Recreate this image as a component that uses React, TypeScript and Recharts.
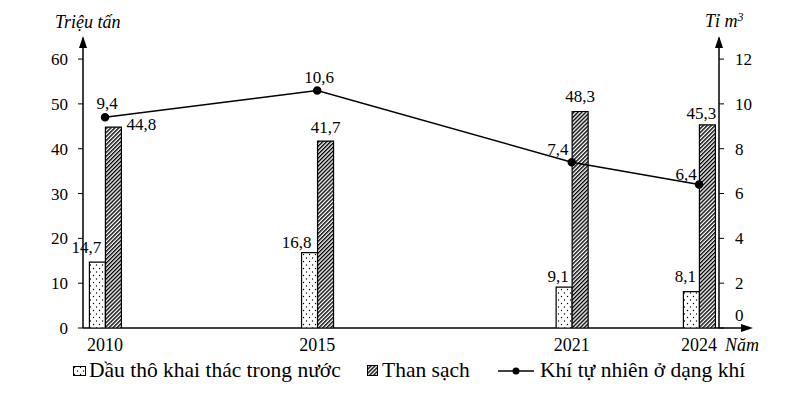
import React from "react";
import { ComposedChart, Bar, Line, XAxis, YAxis, LabelList, Customized } from "recharts";

const years = [2010, 2015, 2021, 2024];
const dauTho = [14.7, 16.8, 9.1, 8.1];
const thanSach = [44.8, 41.7, 48.3, 45.3];
const khiTuNhien = [9.4, 10.6, 7.4, 6.4];
const leftTicks = [0, 10, 20, 30, 40, 50, 60];
const rightTicks = [0, 2, 4, 6, 8, 10, 12];
const seriesNames = ["Dầu thô khai thác trong nước", "Than sạch", "Khí tự nhiên ở dạng khí"];

const data = years.map((year, i) => ({
  year,
  dau: dauTho[i],
  than: thanSach[i],
  khi: khiTuNhien[i],
}));

// label nudges [dx, dy] per point
const dauOffsets = [[-11, -15], [-13, -10], [-6, -11], [-6, -15]];
const thanOffsets = [[28, -3], [0, -14], [0, -15], [-6, -11]];
const khiOffsets = [[2, -14], [2, -13], [-14, -13], [-13, -10]];

const FONT = "'Liberation Serif', 'Times New Roman', serif";
const W = 791;
const H = 380;
const M = { top: 30, right: 30, bottom: 30, left: 15 };
const plotLeft = 75;
const plotRight = 711;
const plotBottom = 320;

const fmt = (v: number) => String(v).replace(".", ",");

const makeLabel = (offsets: number[][]) => (props: any) => {
  const { x, y, width, value, index } = props;
  const [dx, dy] = offsets[index] || [0, -10];
  const cx = Number(x) + (width ? Number(width) / 2 : 0);
  return (
    <text x={cx + dx} y={Number(y) + dy} textAnchor="middle" dominantBaseline="central" fontFamily={FONT} fontSize={17} fill="#000">
      {fmt(value)}
    </text>
  );
};

const RightTick = (props: any) => {
  const { x, y, payload } = props;
  const shift = payload.value === 0 ? -13 : 0;
  return (
    <text x={x} y={y + shift} dy="0.35em" textAnchor="start" fontFamily={FONT} fontSize={17} fill="#000">
      {payload.value}
    </text>
  );
};

const AxisDecor = () => (
  <g>
    <line x1={plotLeft} y1={plotBottom} x2={737} y2={plotBottom} stroke="#000" strokeWidth={1.5} />
    <polygon points={`${plotLeft},28 ${plotLeft - 4},40 ${plotLeft + 4},40`} fill="#000" />
    <polygon points={`${plotRight},28 ${plotRight - 4},40 ${plotRight + 4},40`} fill="#000" />
    <polygon points={`745,${plotBottom} 733,${plotBottom - 4} 733,${plotBottom + 4}`} fill="#000" />
    <text x={47} y={20} fontFamily={FONT} fontStyle="italic" fontSize={18} fill="#000">Triệu tấn</text>
    <text x={697} y={19} fontFamily={FONT} fontStyle="italic" fontSize={18} fill="#000">
      Tỉ m<tspan dy={-6} fontSize={12}>3</tspan>
    </text>
    <text x={717} y={337} dy="0.35em" fontFamily={FONT} fontStyle="italic" fontSize={18} fill="#000">Năm</text>
  </g>
);

const Patterns = () => (
  <defs>
    <pattern id="dots" width="6" height="7" patternUnits="userSpaceOnUse">
      <rect width="6" height="7" fill="#fff" />
      <circle cx="1.5" cy="1.5" r="0.7" fill="#000" />
      <circle cx="4.5" cy="5" r="0.7" fill="#000" />
    </pattern>
    <pattern id="hatch" width="2.8" height="2.8" patternUnits="userSpaceOnUse" patternTransform="rotate(45)">
      <rect width="2.8" height="2.8" fill="#fff" />
      <line x1="0.7" y1="0" x2="0.7" y2="2.8" stroke="#000" strokeWidth="1.4" />
    </pattern>
  </defs>
);

const Legend = () => (
  <div style={{ position: "absolute", left: 0, top: 350, width: W, height: 26, fontFamily: FONT, fontSize: 21.5, color: "#000" }}>
    <div style={{ position: "absolute", left: 65, top: 0, display: "flex", alignItems: "center", whiteSpace: "nowrap" }}>
      <svg width={13} height={10} style={{ marginRight: 3 }}>
        <rect x={0.5} y={0.5} width={12} height={9} fill="url(#dots)" stroke="#000" />
      </svg>
      {seriesNames[0]}
    </div>
    <div style={{ position: "absolute", left: 359, top: 0, display: "flex", alignItems: "center", whiteSpace: "nowrap" }}>
      <svg width={11} height={11} style={{ marginRight: 4 }}>
        <rect x={0.5} y={0.5} width={10} height={10} fill="url(#hatch)" stroke="#000" />
      </svg>
      {seriesNames[1]}
    </div>
    <div style={{ position: "absolute", left: 490, top: 0, display: "flex", alignItems: "center", whiteSpace: "nowrap" }}>
      <svg width={36} height={10} style={{ marginRight: 6 }}>
        <line x1={0} y1={5} x2={36} y2={5} stroke="#000" strokeWidth={1.5} />
        <circle cx={18} cy={5} r={3.5} fill="#000" />
      </svg>
      {seriesNames[2]}
    </div>
  </div>
);

export default function App() {
  return (
    <div style={{ position: "relative", width: W, height: H, background: "#fff" }}>
      <ComposedChart width={W} height={H} data={data} margin={M} barGap={0}>
        <Patterns />
        <XAxis
          dataKey="year"
          type="number"
          domain={[2009.48, 2024.47]}
          ticks={years}
          allowDataOverflow
          axisLine={false}
          tickLine={false}
          height={30}
          tick={{ fontFamily: FONT, fontSize: 18, fill: "#000" }}
          tickMargin={4}
        />
        <YAxis
          yAxisId="left"
          orientation="left"
          domain={[0, 64.7]}
          ticks={leftTicks}
          allowDataOverflow
          width={60}
          axisLine={{ stroke: "#000", strokeWidth: 1.5 }}
          tickLine={{ stroke: "#000" }}
          tickSize={5}
          tickMargin={10}
          tick={{ fontFamily: FONT, fontSize: 17, fill: "#000" }}
        />
        <YAxis
          yAxisId="right"
          orientation="right"
          domain={[0, 12.94]}
          ticks={rightTicks}
          allowDataOverflow
          width={50}
          axisLine={{ stroke: "#000", strokeWidth: 1.5 }}
          tickLine={{ stroke: "#000" }}
          tickSize={5}
          tickMargin={11}
          tick={<RightTick />}
        />
        <Bar yAxisId="left" dataKey="dau" barSize={16} fill="url(#dots)" stroke="#000" strokeWidth={1.2} isAnimationActive={false}>
          <LabelList dataKey="dau" content={makeLabel(dauOffsets)} />
        </Bar>
        <Bar yAxisId="left" dataKey="than" barSize={16} fill="url(#hatch)" stroke="#000" strokeWidth={1.2} isAnimationActive={false}>
          <LabelList dataKey="than" content={makeLabel(thanOffsets)} />
        </Bar>
        <Line
          yAxisId="right"
          dataKey="khi"
          type="linear"
          stroke="#000"
          strokeWidth={1.5}
          dot={{ r: 3.5, fill: "#000", stroke: "#000" }}
          isAnimationActive={false}
        >
          <LabelList dataKey="khi" content={makeLabel(khiOffsets)} />
        </Line>
        <Customized component={AxisDecor} />
      </ComposedChart>
      <Legend />
    </div>
  );
}
